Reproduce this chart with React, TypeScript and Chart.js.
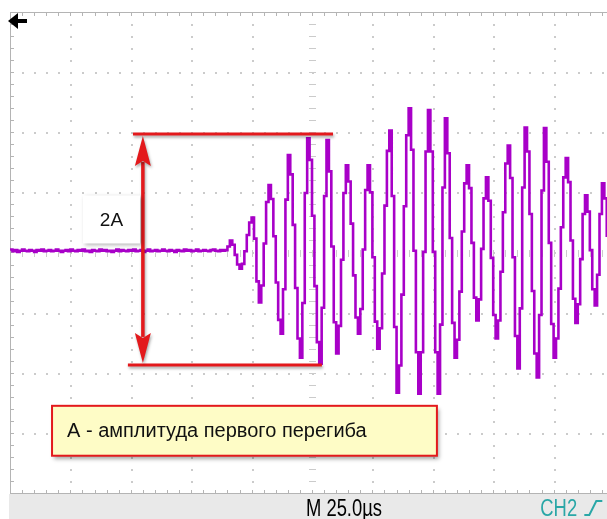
import React, { useEffect, useRef } from 'react';
import { Chart, registerables } from 'chart.js';

Chart.register(...registerables);

// ---- data (time in µs, amplitude in screen divisions) ----
const SAMPLE_START_US = 0;
const SAMPLE_STEP_US = 1;

// flat pre-trigger trace, t = 0 … 90 µs
const BASELINE: number[] = [
  0.03, 0.05, 0.02, 0.04, 0.01, 0.03, 0.05, 0.03, 0.02, 0.04,
  0.03, 0.01, 0.04, 0.03, 0.05, 0.02, 0.03, 0.04, 0.02, 0.03,
  0.05, 0.03, 0.01, 0.03, 0.04, 0.02, 0.05, 0.03, 0.02, 0.04,
  0.03, 0.05, 0.02, 0.03, 0.01, 0.04, 0.03, 0.02, 0.05, 0.03,
  0.04, 0.02, 0.03, 0.01, 0.03, 0.05, 0.02, 0.04, 0.03, 0.02,
  0.04, 0.03, 0.05, 0.02, 0.03, 0.04, 0.01, 0.03, 0.05, 0.02,
  0.03, 0.04, 0.02, 0.03, 0.05, 0.03, 0.02, 0.04, 0.03, 0.01,
  0.04, 0.03, 0.02, 0.05, 0.03, 0.04, 0.02, 0.03, 0.05, 0.02,
  0.03, 0.04, 0.03, 0.02, 0.04, 0.05, 0.03, 0.02, 0.04, 0.03,
  0.04,
];

// ringing part, t = 91 … 250 µs
const RINGING: number[] = [
  0.1, 0.2, 0.13, -0.04, -0.2, -0.27, -0.19, 0.02, 0.29, 0.5,
  0.58, 0.23, -0.48, -0.83, -0.55, 0.15, 0.84, 1.12, 0.89, 0.27,
  -0.5, -1.12, -1.35, -0.61, 0.88, 1.62, 1.3, 0.46, -0.59, -1.43,
  -1.75, -0.84, 0.99, 1.9, 1.54, 0.61, -0.56, -1.49, -1.85, -0.92,
  0.94, 1.87, 1.35, 0.1, -1.16, -1.68, -1.22, -0.12, 0.99, 1.45,
  1.18, 0.48, -0.38, -1.08, -1.35, -0.94, 0.05, 1.04, 1.45, 1.0,
  -0.08, -1.15, -1.6, -1.26, -0.35, 0.78, 1.69, 2.03, 0.94, -1.24,
  -2.33, -1.88, -0.7, 0.77, 1.95, 2.4, 1.71, 0.03, -1.66, -2.35,
  -1.66, 0.01, 1.68, 2.37, 1.68, 0.01, -1.66, -2.35, -1.2, 1.08,
  2.23, 1.65, 0.24, -1.17, -1.75, -1.45, -0.65, 0.35, 1.15, 1.45,
  1.07, 0.16, -0.75, -1.13, -0.78, 0.06, 0.9, 1.25, 0.86, -0.09,
  -1.04, -1.43, -1.13, -0.32, 0.67, 1.48, 1.78, 1.24, -0.08, -1.39,
  -1.93, -0.93, 1.08, 2.08, 1.68, 0.64, -0.64, -1.68, -2.08, -1.04,
  1.03, 2.07, 1.51, 0.16, -1.19, -1.75, -1.43, -0.6, 0.42, 1.25,
  1.57, 1.17, 0.2, -0.77, -1.17, -0.86, -0.11, 0.64, 0.95, 0.68,
  0.04, -0.61, -0.88, -0.37, 0.64, 1.15, 0.9, 0.28, -0.35, -0.6,
];

const X_MIN = 0;
const X_MAX = 250;
const X_DIV = 25;
const Y_MIN = -4;
const Y_MAX = 4;
const Y_DIV = 1;
const MINOR_PER_DIV = 5;

const TIMEBASE_LABEL = 'M 25.0µs';
const CHANNEL_LABEL = 'CH2';
const SPAN_LABEL = '2A';
const NOTE_LABEL = 'А - амплитуда первого перегиба';

// annotation levels (divisions) and extents (µs)
const TOP_LEVEL = 1.97;
const BOTTOM_LEVEL = -1.87;
const TOP_LINE_X = [50.9, 133.7];
const BOTTOM_LINE_X = [48.8, 129.1];
const ARROW_X = 55.0;
const SPAN_BOX = { x0: 30.2, x1: 53.8, y0: 0.95, y1: 0.15 };
const NOTE_BOX = { x0: 17.4, x1: 176.7, y0: -2.55, y1: -3.38 };

const TRACE_COLOR = '#a800c8';
const RED = '#e3191c';
const GRID_COLOR = '#cbcbcb';
const BORDER_COLOR = '#b4b4b4';
const TEAL = '#2aa7a7';

const scopePlugin = {
  id: 'scope',
  beforeDraw(chart: any) {
    const { ctx, chartArea: a, scales } = chart;
    const x = scales.x;
    const y = scales.y;
    ctx.save();
    ctx.fillStyle = '#ffffff';
    ctx.fillRect(0, 0, chart.width, chart.height);

    // status bar
    ctx.fillStyle = '#e9e9e9';
    ctx.fillRect(a.left - 1, a.bottom + 1, chart.width, chart.height - a.bottom);

    // grid dots along major lines
    ctx.fillStyle = GRID_COLOR;
    const minorX = X_DIV / MINOR_PER_DIV;
    const minorY = Y_DIV / MINOR_PER_DIV;
    for (let gx = X_MIN + X_DIV; gx < X_MAX; gx += X_DIV) {
      const px = Math.round(x.getPixelForValue(gx));
      for (let v = Y_MIN + minorY; v < Y_MAX - 1e-6; v += minorY) {
        const py = Math.round(y.getPixelForValue(v));
        if (Math.abs(gx - (X_MIN + X_MAX) / 2) < 1e-6) {
          ctx.fillRect(px - 3, py, 7, 1);
        } else {
          ctx.fillRect(px, py, 2, 2);
        }
      }
    }
    for (let gy = Y_MIN + Y_DIV; gy < Y_MAX; gy += Y_DIV) {
      const py = Math.round(y.getPixelForValue(gy));
      for (let v = X_MIN + minorX; v < X_MAX + 1e-6; v += minorX) {
        const px = Math.round(x.getPixelForValue(v));
        if (Math.abs(gy) < 1e-6) {
          ctx.fillRect(px, py - 3, 1, 7);
        } else {
          ctx.fillRect(px, py, 2, 2);
        }
      }
    }

    // borders with ticks
    ctx.fillStyle = BORDER_COLOR;
    const l = Math.round(a.left);
    const t = Math.round(a.top);
    const b = Math.round(a.bottom);
    ctx.fillRect(l, t, chart.width, 1);
    ctx.fillRect(l, b, chart.width, 1);
    ctx.fillRect(l, t, 1, b - t);
    for (let v = X_MIN + minorX; v < X_MAX + 1e-6; v += minorX) {
      const px = Math.round(x.getPixelForValue(v));
      ctx.fillRect(px, t, 1, 4);
      ctx.fillRect(px, b - 3, 1, 4);
    }
    for (let v = Y_MIN + minorY; v < Y_MAX - 1e-6; v += minorY) {
      const py = Math.round(y.getPixelForValue(v));
      ctx.fillRect(l, py, 4, 1);
    }
    ctx.restore();
  },
  afterDatasetsDraw(chart: any) {
    const { ctx, chartArea: a, scales } = chart;
    const x = scales.x;
    const y = scales.y;
    ctx.save();

    // red level lines with shadow
    ctx.shadowColor = 'rgba(0,0,0,0.35)';
    ctx.shadowBlur = 3;
    ctx.shadowOffsetX = 1;
    ctx.shadowOffsetY = 2;
    ctx.strokeStyle = RED;
    ctx.fillStyle = RED;
    ctx.lineWidth = 3;
    const yTop = y.getPixelForValue(TOP_LEVEL);
    const yBot = y.getPixelForValue(BOTTOM_LEVEL);
    ctx.beginPath();
    ctx.moveTo(x.getPixelForValue(TOP_LINE_X[0]), yTop);
    ctx.lineTo(x.getPixelForValue(TOP_LINE_X[1]), yTop);
    ctx.stroke();
    ctx.beginPath();
    ctx.moveTo(x.getPixelForValue(BOTTOM_LINE_X[0]), yBot);
    ctx.lineTo(x.getPixelForValue(BOTTOM_LINE_X[1]), yBot);
    ctx.stroke();

    // double arrow
    const ax = x.getPixelForValue(ARROW_X);
    const headLen = 32;
    const headHalf = 8;
    ctx.lineWidth = 3.5;
    ctx.beginPath();
    ctx.moveTo(ax, yTop + headLen - 4);
    ctx.lineTo(ax, yBot - headLen + 4);
    ctx.stroke();
    ctx.beginPath();
    ctx.moveTo(ax, yTop + 2);
    ctx.lineTo(ax + headHalf, yTop + headLen);
    ctx.lineTo(ax, yTop + headLen - 5);
    ctx.lineTo(ax - headHalf, yTop + headLen);
    ctx.closePath();
    ctx.fill();
    ctx.beginPath();
    ctx.moveTo(ax, yBot - 2);
    ctx.lineTo(ax + headHalf, yBot - headLen);
    ctx.lineTo(ax, yBot - headLen + 5);
    ctx.lineTo(ax - headHalf, yBot - headLen);
    ctx.closePath();
    ctx.fill();

    // "2A" box
    const sx0 = x.getPixelForValue(SPAN_BOX.x0);
    const sx1 = x.getPixelForValue(SPAN_BOX.x1);
    const sy0 = y.getPixelForValue(SPAN_BOX.y0);
    const sy1 = y.getPixelForValue(SPAN_BOX.y1);
    ctx.shadowColor = 'rgba(0,0,0,0.3)';
    ctx.shadowBlur = 4;
    ctx.shadowOffsetX = 2;
    ctx.shadowOffsetY = 2;
    ctx.fillStyle = '#ffffff';
    ctx.fillRect(sx0, sy0, sx1 - sx0, sy1 - sy0);
    ctx.shadowColor = 'transparent';
    ctx.fillStyle = '#111111';
    ctx.font = '19px "Liberation Sans", Arial, sans-serif';
    ctx.textAlign = 'center';
    ctx.textBaseline = 'middle';
    ctx.fillText(SPAN_LABEL, (sx0 + sx1) / 2, (sy0 + sy1) / 2 + 1);

    // note box
    const nx0 = x.getPixelForValue(NOTE_BOX.x0);
    const nx1 = x.getPixelForValue(NOTE_BOX.x1);
    const ny0 = y.getPixelForValue(NOTE_BOX.y0);
    const ny1 = y.getPixelForValue(NOTE_BOX.y1);
    ctx.shadowColor = 'rgba(0,0,0,0.35)';
    ctx.shadowBlur = 4;
    ctx.shadowOffsetX = 2;
    ctx.shadowOffsetY = 3;
    ctx.fillStyle = '#fefcc6';
    ctx.fillRect(nx0, ny0, nx1 - nx0, ny1 - ny0);
    ctx.shadowColor = 'transparent';
    ctx.strokeStyle = RED;
    ctx.lineWidth = 2;
    ctx.strokeRect(nx0, ny0, nx1 - nx0, ny1 - ny0);
    ctx.fillStyle = '#111111';
    ctx.font = '20px "Liberation Sans", Arial, sans-serif';
    ctx.textAlign = 'left';
    ctx.textBaseline = 'middle';
    ctx.fillText(NOTE_LABEL, nx0 + 15, (ny0 + ny1) / 2 + 1);

    // position marker arrow (top-left)
    const l = a.left;
    const t = a.top;
    ctx.fillStyle = '#000000';
    ctx.beginPath();
    ctx.moveTo(l - 2, t + 9);
    ctx.lineTo(l + 8, t + 1);
    ctx.lineTo(l + 8, t + 17);
    ctx.closePath();
    ctx.fill();
    ctx.fillRect(l + 7, t + 7, 10, 4);

    // status bar texts
    ctx.save();
    ctx.fillStyle = '#000000';
    ctx.font = '23px "Liberation Sans", Arial, sans-serif';
    ctx.textAlign = 'left';
    ctx.textBaseline = 'alphabetic';
    ctx.translate(x.getPixelForValue(122.5), chart.height - 3);
    ctx.scale(0.8, 1);
    ctx.fillText(TIMEBASE_LABEL, 0, 0);
    ctx.restore();

    ctx.save();
    ctx.fillStyle = TEAL;
    ctx.font = '23px "Liberation Sans", Arial, sans-serif';
    ctx.textAlign = 'left';
    ctx.textBaseline = 'alphabetic';
    const chX = x.getPixelForValue(219.5);
    ctx.translate(chX, chart.height - 3);
    ctx.scale(0.8, 1);
    ctx.fillText(CHANNEL_LABEL, 0, 0);
    ctx.restore();
    // rising-edge trigger symbol
    ctx.strokeStyle = TEAL;
    ctx.lineWidth = 2;
    const ex = chX + 44;
    const base = chart.height - 4;
    ctx.beginPath();
    ctx.moveTo(ex, base);
    ctx.lineTo(ex + 5, base);
    ctx.lineTo(ex + 12, base - 14);
    ctx.lineTo(ex + 18, base - 14);
    ctx.stroke();

    ctx.restore();
  },
};

export default function App() {
  const canvasRef = useRef<HTMLCanvasElement | null>(null);

  useEffect(() => {
    const canvas = canvasRef.current;
    if (!canvas) return;
    const samples = [...BASELINE, ...RINGING].map((v, i) => ({
      x: SAMPLE_START_US + i * SAMPLE_STEP_US,
      y: v,
    }));
    const chart = new Chart(canvas, {
      type: 'line',
      data: {
        datasets: [
          {
            data: samples,
            borderColor: TRACE_COLOR,
            borderWidth: 2.6,
            pointRadius: 0,
            stepped: 'after',
            fill: false,
          },
        ],
      },
      options: {
        animation: false,
        responsive: false,
        devicePixelRatio: 1,
        parsing: false,
        layout: { padding: { left: 10, top: 12, right: 6, bottom: 26 } },
        plugins: { legend: { display: false }, tooltip: { enabled: false } },
        events: [],
        scales: {
          x: { type: 'linear', min: X_MIN, max: X_MAX, display: false },
          y: { type: 'linear', min: Y_MIN, max: Y_MAX, display: false },
        },
      },
      plugins: [scopePlugin],
    });
    return () => chart.destroy();
  }, []);

  return (
    <div
      style={{
        position: 'fixed',
        left: 0,
        top: 0,
        width: 607,
        height: 519,
        overflow: 'hidden',
        background: '#ffffff',
      }}
    >
      <canvas
        ref={canvasRef}
        width={620}
        height={519}
        style={{ display: 'block', width: 620, height: 519 }}
      />
    </div>
  );
}
